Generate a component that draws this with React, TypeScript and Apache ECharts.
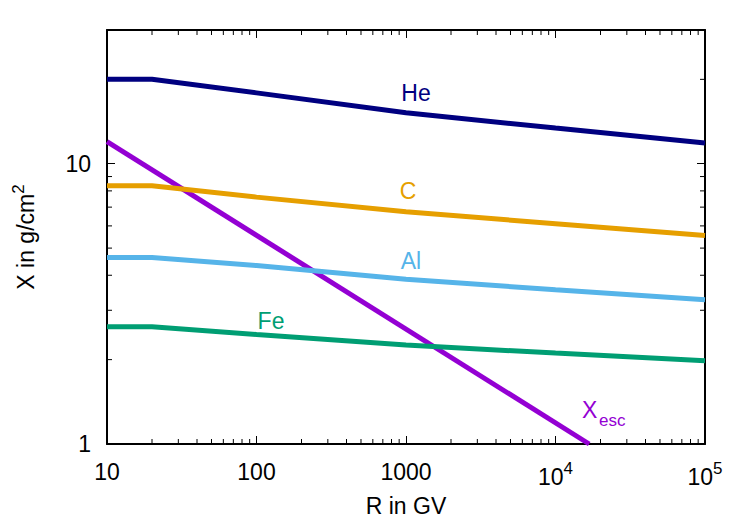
import React, { useEffect, useRef } from 'react';
import * as echarts from 'echarts';

// Rigidity grid (GV) and grammage (g/cm^2)
const rigidity = [10, 20, 100, 1000, 10000, 100000];
const heX = [20, 20, 17.9, 15.2, 13.4, 11.85];
const cX = [8.35, 8.35, 7.6, 6.74, 6.11, 5.54];
const alX = [4.63, 4.63, 4.33, 3.87, 3.55, 3.27];
const feX = [2.62, 2.62, 2.46, 2.255, 2.11, 1.98];
const escR = [10, 16800];
const escX = [12.0, 1.0];

const xMajorLabels: Record<number, string> = {
  10: '10',
  100: '100',
  1000: '1000',
  10000: '10{sup|4}',
  100000: '10{sup|5}',
};
const yMajorLabels: Record<number, string> = { 1: '1', 10: '10' };
const minorMultipliers = [2, 3, 4, 5, 6, 7, 8, 9];
const xDecades = [10, 100, 1000, 10000];
const yDecades = [1, 10];

const FONT = '"Liberation Sans", Arial, Helvetica, sans-serif';
const FS = 23;

const zip = (xs: number[], ys: number[]) => xs.map((x, i) => [x, ys[i]]);

export default function App() {
  const ref = useRef<HTMLDivElement>(null);
  useEffect(() => {
    if (!ref.current) return;
    const chart = echarts.init(ref.current, undefined, { renderer: 'svg' });
    const axisCommon = {
      type: 'log' as const,
      logBase: 10,
      axisLine: { show: true, onZero: false, lineStyle: { color: '#000', width: 2 } },
      axisTick: { show: true, inside: true, length: 8, lineStyle: { color: '#000', width: 1 } },
      splitLine: { show: false },
      minorTick: { show: false },
      minorSplitLine: { show: false },
    };
    const lineSeries = (name: string, data: number[][], color: string) => ({
      name,
      type: 'line' as const,
      data,
      symbol: 'none',
      showSymbol: false,
      smooth: false,
      lineStyle: { color, width: 5 },
      xAxisIndex: 0,
      yAxisIndex: 0,
    });
    chart.setOption({
      animation: false,
      grid: { left: 107, right: 45, top: 30, bottom: 81, containLabel: false },
      xAxis: [
        {
          ...axisCommon,
          min: 10,
          max: 100000,
          position: 'bottom',
          axisLabel: {
            show: true,
            margin: 16,
            color: '#000',
            fontFamily: FONT,
            fontSize: FS,
            formatter: (v: number) => xMajorLabels[Math.round(v)] ?? '',
            rich: {
              sup: { fontSize: 17, fontFamily: FONT, color: '#000', padding: [0, 0, 16, 0] },
            },
          },
        },
        {
          ...axisCommon,
          min: 10,
          max: 100000,
          position: 'top',
          axisLabel: { show: false },
        },
      ],
      yAxis: [
        {
          ...axisCommon,
          min: 1,
          max: 30,
          position: 'left',
          axisLabel: {
            show: true,
            margin: 16,
            color: '#000',
            fontFamily: FONT,
            fontSize: FS,
            showMaxLabel: false,
            formatter: (v: number) => yMajorLabels[Math.round(v)] ?? '',
          },
        },
        {
          ...axisCommon,
          min: 1,
          max: 30,
          position: 'right',
          axisLabel: { show: false },
        },
      ],
      series: [
        lineSeries('Xesc', zip(escR, escX), '#9400d3'),
        lineSeries('He', zip(rigidity, heX), '#000080'),
        lineSeries('C', zip(rigidity, cX), '#e69f00'),
        lineSeries('Al', zip(rigidity, alX), '#56b4e9'),
        lineSeries('Fe', zip(rigidity, feX), '#009e73'),
      ],
    });

    const px = (v: number) => chart.convertToPixel({ xAxisIndex: 0 }, v) as number;
    const py = (v: number) => chart.convertToPixel({ yAxisIndex: 0 }, v) as number;
    const left = px(10);
    const right = px(100000);
    const bottom = py(1);
    const top = py(30);
    const minorLen = 5;
    const tickStyle = { stroke: '#000', lineWidth: 1 };
    const graphics: any[] = [];
    xDecades.forEach((d) =>
      minorMultipliers.forEach((m) => {
        const x = px(d * m);
        graphics.push({ type: 'line', silent: true, shape: { x1: x, y1: bottom, x2: x, y2: bottom - minorLen }, style: tickStyle });
        graphics.push({ type: 'line', silent: true, shape: { x1: x, y1: top, x2: x, y2: top + minorLen }, style: tickStyle });
      })
    );
    yDecades.forEach((d) =>
      minorMultipliers.forEach((m) => {
        const v = d * m;
        if (v > 30) return;
        const y = py(v);
        graphics.push({ type: 'line', silent: true, shape: { x1: left, y1: y, x2: left + minorLen, y2: y }, style: tickStyle });
        graphics.push({ type: 'line', silent: true, shape: { x1: right, y1: y, x2: right - minorLen, y2: y }, style: tickStyle });
      })
    );

    const label = (text: string, x: number, y: number, fill: string) => ({
      type: 'text',
      x,
      y,
      silent: true,
      style: { text, fill, font: `${FS}px ${FONT}`, align: 'center', verticalAlign: 'middle' },
    });
    graphics.push(label('He', 416, 93, '#000080'));
    graphics.push(label('C', 408, 191, '#e69f00'));
    graphics.push(label('Al', 411, 261, '#56b4e9'));
    graphics.push(label('Fe', 271, 321, '#009e73'));
    graphics.push({
      type: 'text',
      x: 582,
      y: 409.5,
      silent: true,
      style: { text: 'X', fill: '#9400d3', font: `${FS}px ${FONT}`, align: 'left', verticalAlign: 'middle' },
    });
    graphics.push({
      type: 'text',
      x: 599,
      y: 420,
      silent: true,
      style: { text: 'esc', fill: '#9400d3', font: `17px ${FONT}`, align: 'left', verticalAlign: 'middle' },
    });
    // axis titles
    graphics.push({
      type: 'text',
      x: 406,
      y: 506,
      silent: true,
      style: { text: 'R in GV', fill: '#000', font: `${FS}px ${FONT}`, align: 'center', verticalAlign: 'middle' },
    });
    graphics.push({
      type: 'text',
      x: 26,
      y: 237,
      rotation: Math.PI / 2,
      silent: true,
      style: {
        text: 'X in g/cm{sup|2}',
        fill: '#000',
        font: `${FS}px ${FONT}`,
        align: 'center',
        verticalAlign: 'middle',
        rich: { sup: { fontSize: 17, fontFamily: FONT, fill: '#000', padding: [0, 0, 16, 0] } },
      },
    });
    chart.setOption({ graphic: graphics });

    return () => chart.dispose();
  }, []);
  return (
    <div
      ref={ref}
      style={{ position: 'absolute', left: 0, top: 0, width: 750, height: 525, background: '#fff' }}
    />
  );
}
